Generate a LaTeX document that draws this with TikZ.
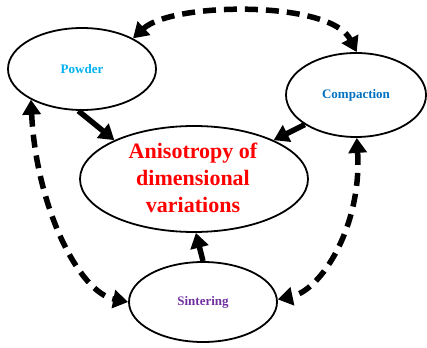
\documentclass[tikz,border=0pt]{standalone}
\usepackage{fontspec}
\setmainfont{Liberation Serif}
\usetikzlibrary{shapes.geometric,arrows.meta}
\definecolor{powc}{HTML}{00B0F0}
\definecolor{comc}{HTML}{0070C0}
\definecolor{sinc}{HTML}{7030A0}
\tikzset{
  blob/.style={ellipse, draw=black, line width=1.8pt, inner sep=0pt},
  small/.style={font=\fontsize{13}{15}\selectfont\bfseries},
  solidarrow/.style={line width=5.5pt, -{Triangle[length=15pt,width=18pt]}},
  dasharrow/.style={line width=5.5pt, dash pattern=on 13pt off 8pt,
     {Triangle[length=15pt,width=18pt]}-{Triangle[length=15pt,width=18pt]}}
}
\begin{document}
\begin{tikzpicture}[x=1pt,y=-1pt]
\useasboundingbox (0,0) rectangle (427,347);
\node[blob, minimum width=148pt, minimum height=82pt] (pow) at (82,69) {};
\node[small, text=powc] at (pow.center) {Powder};
\node[blob, minimum width=140pt, minimum height=84pt] (com) at (356,95) {};
\node[small, text=comc] at (com.center) {Compaction};
\node[blob, minimum width=228pt, minimum height=106pt] (cen) at (194,179) {};
\node[text=red, align=center, font=\fontsize{22}{27}\selectfont\bfseries] at (193,178) {Anisotropy of\\dimensional\\variations};
\node[blob, minimum width=148pt, minimum height=80pt] (sin) at (203,302) {};
\node[small, text=sinc] at (sin.center) {Sintering};
% solid arrows
\draw[solidarrow] (pow.-95) -- (cen.154);
\draw[solidarrow] (com.210) -- (cen.26);
\draw[solidarrow] (sin.north) -- (cen.-88);
% dashed double arrows
\draw[dasharrow] (pow.31) .. controls (172,2) and (330,0) .. (com.89);
\draw[dasharrow] (pow.211) .. controls (36,205) and (78,292) .. (sin.180);
\draw[dasharrow] (com.-89) .. controls (362,225) and (322,290) .. (sin.2);
\end{tikzpicture}
\end{document}
